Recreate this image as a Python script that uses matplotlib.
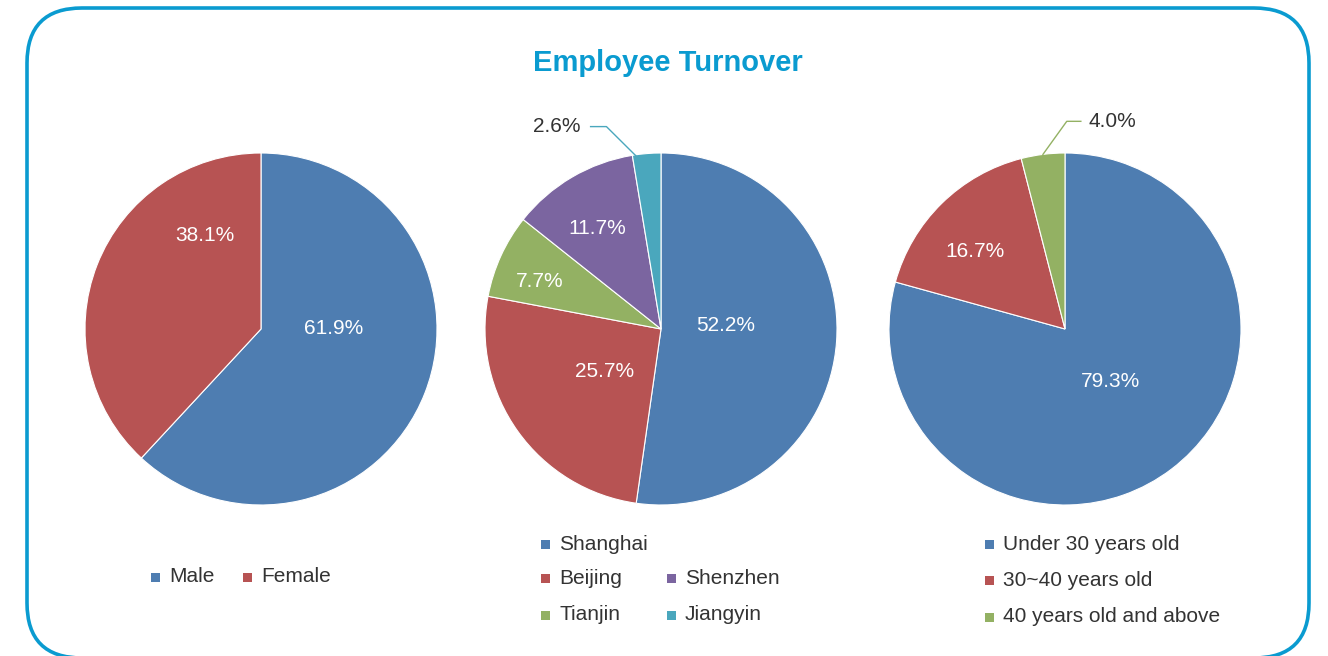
import matplotlib.pyplot as plt
import numpy as np
from matplotlib.patches import FancyBboxPatch, Rectangle

plt.rcParams['font.family'] = ['Liberation Sans', 'DejaVu Sans']

# Turnover breakdowns (percent)
gender_labels = ['Male', 'Female']
gender_values = [61.9, 38.1]

city_labels = ['Shanghai', 'Beijing', 'Tianjin', 'Shenzhen', 'Jiangyin']
city_values = [52.2, 25.7, 7.7, 11.7, 2.6]

age_labels = ['Under 30 years old', '30~40 years old', '40 years old and above']
age_values = [79.3, 16.7, 4.0]

BLUE = '#4e7db1'
RED = '#b75353'
GREEN = '#93b163'
PURPLE = '#7b65a0'
TEAL = '#4aa7bd'
TEXT = '#333333'

gender_colors = [BLUE, RED]
city_colors = [BLUE, RED, GREEN, PURPLE, TEAL]
age_colors = [BLUE, RED, GREEN]

W, H = 1328, 656
fig = plt.figure(figsize=(W / 100, H / 100), dpi=100)

# background layer in pixel units (y measured from the top) for frame and legends
bg = fig.add_axes([0, 0, 1, 1])
bg.set_xlim(0, W)
bg.set_ylim(0, H)
bg.axis('off')


def py(y):
    return H - y


rad = 55
frame = FancyBboxPatch((27 + rad, py(658) + rad), 1309 - 27 - 2 * rad, 658 - 8 - 2 * rad,
                       boxstyle=f'round,pad={rad}', fill=False,
                       edgecolor='#0a9bd0', linewidth=2.6)
bg.add_patch(frame)

fig.text(668 / W, 1 - 63 / H, 'Employee Turnover', ha='center', va='center',
         fontsize=21, fontweight='bold', color='#0a9bd0')

R = 176


def draw_pie(cx, cy, values, colors, label_pos, leaders):
    ax = fig.add_axes([(cx - R) / W, (H - cy - R) / H, 2 * R / W, 2 * R / H])
    wedges, _ = ax.pie(values, colors=colors, startangle=90, counterclock=False,
                       radius=1, wedgeprops=dict(edgecolor='white', linewidth=0.8))
    ax.set_xlim(-1, 1)
    ax.set_ylim(-1, 1)
    ax.set_aspect('equal')
    ax.axis('off')
    for i, (v, (lx, ly)) in enumerate(zip(values, label_pos)):
        outside = i in leaders
        ax.text(lx, ly, f'{v:.1f}%', ha='center', va='center', fontsize=15,
                color=TEXT if outside else 'white', clip_on=False)
        if outside:
            w = wedges[i]
            mid = np.deg2rad((w.theta1 + w.theta2) / 2)
            kx, side, r_end = leaders[i]
            ex, ey = r_end * np.cos(mid), r_end * np.sin(mid)
            ax.plot([lx + side, kx, ex], [ly, ly, ey], color=colors[i],
                    linewidth=1, clip_on=False)


draw_pie(261, 329, gender_values, gender_colors,
         [(0.41, 0.0), (-0.32, 0.53)], {})
draw_pie(661, 329, city_values, city_colors,
         [(0.37, 0.02), (-0.32, -0.24), (-0.69, 0.27), (-0.36, 0.57), (-0.59, 1.15)],
         {4: (-0.31, 0.19, 0.92)})
draw_pie(1065, 329, age_values, age_colors,
         [(0.26, -0.30), (-0.51, 0.44), (0.27, 1.18)],
         {2: (0.01, -0.18, 1.0)})


def legend_item(x, y, label, color):
    bg.add_patch(Rectangle((x - 4.5, py(y) - 4.5), 9, 9, facecolor=color, edgecolor='none'))
    bg.text(x + 14, py(y), label, ha='left', va='center', fontsize=15, color=TEXT)


legend_item(155, 577, gender_labels[0], gender_colors[0])
legend_item(247, 577, gender_labels[1], gender_colors[1])

city_slots = {'Shanghai': (545, 544), 'Beijing': (545, 578), 'Shenzhen': (671, 578),
              'Tianjin': (545, 615), 'Jiangyin': (671, 615)}
for lab, col in zip(city_labels, city_colors):
    x, y = city_slots[lab]
    legend_item(x, y, lab, col)

for lab, col, y in zip(age_labels, age_colors, [544, 580, 617]):
    legend_item(989, y, lab, col)

fig.savefig('out.png', dpi=100)
